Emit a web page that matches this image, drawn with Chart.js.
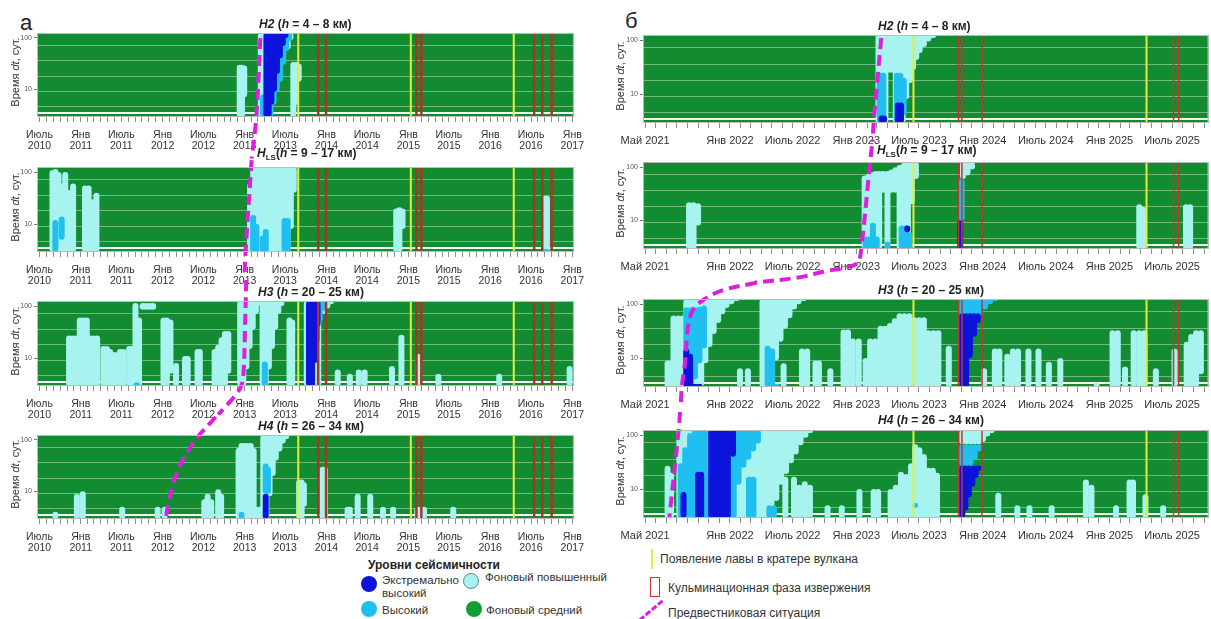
<!DOCTYPE html>
<html lang="ru">
<head>
<meta charset="utf-8">
<title>Уровни сейсмичности</title>
<script src="https://cdn.jsdelivr.net/npm/chart.js@4.4.1/dist/chart.umd.min.js"></script>
<style>
  body { margin: 0; background: #fff; font-family: "Liberation Sans", Arial, sans-serif; color: #222; }
  #page { position: relative; width: 1211px; height: 619px; overflow: hidden; }
  .panel { position: absolute; }
  .ptitle { position: absolute; font-weight: bold; font-size: 12px; white-space: nowrap; z-index: 5; color: #222; }
  .ptitle sub { font-size: 8px; }
  .ytitle { position: absolute; font-size: 11px; white-space: nowrap; transform: translate(-50%, -50%) rotate(-90deg); color: #333; z-index: 5; }
  .letter { position: absolute; font-size: 22px; color: #222; }
  .lg { position: absolute; font-size: 12px; white-space: nowrap; color: #333; line-height: 13px; }
  .dot { position: absolute; width: 16px; height: 16px; border-radius: 50%; }
</style>
</head>
<body>
<div id="page">
  <div class="letter" style="left:20px;top:10px;">а</div>
  <div class="letter" style="left:625px;top:8px;">б</div>

  <div class="lg" style="left:368px;top:559px;font-weight:bold;color:#222;">Уровни сейсмичности</div>
  <div class="dot" style="left:361px;top:576px;background:#0c14dc;"></div>
  <div class="lg" style="left:382px;top:574px;font-size:11.5px;">Экстремально<br>высокий</div>
  <div class="dot" style="left:361px;top:601px;background:#1fbff0;"></div>
  <div class="lg" style="left:382px;top:604px;font-size:11.5px;">Высокий</div>
  <div class="dot" style="left:463px;top:573px;background:#a7f3ef;box-sizing:border-box;border:1px solid #6a8a8a;"></div>
  <div class="lg" style="left:485px;top:571px;font-size:11.5px;">Фоновый повышенный</div>
  <div class="dot" style="left:466px;top:601px;background:#12a033;"></div>
  <div class="lg" style="left:486px;top:604px;font-size:11.5px;">Фоновый средний</div>

  <div style="position:absolute;left:651px;top:549px;width:2px;height:20px;background:#e6ec3a;"></div>
  <div class="lg" style="left:660px;top:553px;">Появление лавы в кратере вулкана</div>
  <div style="position:absolute;left:650px;top:577px;width:8px;height:18px;border:1.5px solid #d8322a;"></div>
  <div class="lg" style="left:668px;top:582px;">Кульминационная фаза извержения</div>
  <div style="position:absolute;left:636px;top:609px;width:30px;height:0;border-top:3px dashed #dc1fdc;transform:rotate(-40deg);"></div>
  <div class="lg" style="left:668px;top:607px;">Предвестниковая ситуация</div>
</div>

<script>
// ---- axis settings ----
const DT_MIN = 2.9, DT_MAX = 125;
const DT_GRID = [3.5, 4.6, 9, 18, 36, 72];
const DT_LABELS = [10, 100];

const LEFT_RANGE = ['2010-06-20', '2017-01-08'];
const RIGHT_RANGE = ['2021-04-25', '2025-10-14'];

const LEFT_TICK_LABELS = [
  ['2010-07-01', 'Июль', '2010'], ['2011-01-01', 'Янв', '2011'], ['2011-07-01', 'Июль', '2011'],
  ['2012-01-01', 'Янв', '2012'], ['2012-07-01', 'Июль', '2012'], ['2013-01-01', 'Янв', '2013'],
  ['2013-07-01', 'Июль', '2013'], ['2014-01-01', 'Янв', '2014'], ['2014-07-01', 'Июль', '2014'],
  ['2015-01-01', 'Янв', '2015'], ['2015-07-01', 'Июль', '2015'], ['2016-01-01', 'Янв', '2016'],
  ['2016-07-01', 'Июль', '2016'], ['2017-01-01', 'Янв', '2017']
];
const RIGHT_TICK_LABELS = [
  ['2021-05-01', 'Май 2021'], ['2022-01-01', 'Янв 2022'], ['2022-07-01', 'Июль 2022'],
  ['2023-01-01', 'Янв 2023'], ['2023-07-01', 'Июль 2023'], ['2024-01-01', 'Янв 2024'],
  ['2024-07-01', 'Июль 2024'], ['2025-01-01', 'Янв 2025'], ['2025-07-01', 'Июль 2025']
];

// ---- events ----
const LEFT_LAVA = ['2013-08-28', '2015-01-12', '2016-04-15'];
const LEFT_CULM = ['2013-11-25', '2013-12-30', '2015-02-06', '2015-02-28', '2016-07-15', '2016-08-20', '2016-10-01'];
const RIGHT_LAVA = ['2023-06-15', '2025-04-18'];
const RIGHT_CULM = ['2023-12-30'];
const RIGHT_CULM_RECTS = [['2023-10-23', '2023-11-02'], ['2025-07-05', '2025-07-20']];

// ---- columns: [date, dt from, dt to] ----
const L1_cyan = [
  ['2012-12-10', 2.9, 30], ['2012-12-20', 2.9, 30], ['2012-12-30', 7, 29],
  ['2013-03-14', 2.9, 125], ['2013-03-24', 2.9, 125], ['2013-04-03', 2.9, 125],
  ['2013-07-12', 60, 125], ['2013-07-24', 90, 125],
  ['2013-08-06', 2.9, 34], ['2013-08-18', 5, 34], ['2013-08-30', 14, 32]
];
const L1_lblue = [
  ['2013-03-24', 2.9, 8], ['2013-04-12', 2.9, 125], ['2013-04-26', 2.9, 125], ['2013-05-10', 5, 125],
  ['2013-05-24', 9, 125], ['2013-06-08', 14, 125], ['2013-06-22', 30, 125], ['2013-07-05', 55, 125], ['2013-07-18', 85, 125]
];
const L1_dblue = [
  ['2013-04-08', 2.9, 125], ['2013-04-18', 2.9, 125], ['2013-04-30', 5, 125], ['2013-05-12', 9, 125],
  ['2013-05-25', 20, 125], ['2013-06-07', 40, 125], ['2013-06-20', 70, 125], ['2013-07-02', 100, 125]
];
const L1_mag = [['2013-03-12', 100], ['2013-02-22', 2.9], ['2013-02-01', 0.45]];

const L2_cyan = [
  ['2010-08-28', 2.9, 110], ['2010-09-10', 2.9, 115], ['2010-09-24', 2.9, 100], ['2010-10-08', 2.9, 60],
  ['2010-10-24', 2.9, 100], ['2010-11-10', 2.9, 45], ['2010-11-28', 2.9, 60], ['2011-01-20', 2.9, 55],
  ['2011-02-05', 2.9, 55], ['2011-02-22', 2.9, 30], ['2011-03-12', 2.9, 40],
  ['2013-01-25', 2.9, 60], ['2013-02-08', 2.9, 125], ['2013-02-22', 2.9, 125], ['2013-03-08', 2.9, 125],
  ['2013-03-22', 2.9, 125], ['2013-04-05', 2.9, 125], ['2013-04-19', 2.9, 125], ['2013-05-03', 2.9, 125],
  ['2013-05-17', 2.9, 125], ['2013-05-31', 2.9, 125], ['2013-06-14', 2.9, 125], ['2013-06-28', 2.9, 125],
  ['2013-07-12', 2.9, 125], ['2013-07-26', 8, 125], ['2013-08-08', 40, 125],
  ['2014-11-08', 2.9, 20], ['2014-11-22', 2.9, 21], ['2014-12-06', 8, 20],
  ['2016-08-28', 2.9, 35], ['2016-09-10', 2.9, 35]
];
const L2_lblue = [
  ['2010-09-10', 2.9, 12], ['2010-10-08', 5, 14], ['2013-02-08', 2.9, 15], ['2013-02-22', 2.9, 10],
  ['2013-03-22', 2.9, 6], ['2013-04-05', 2.9, 8], ['2013-06-28', 2.9, 13], ['2013-07-12', 2.9, 13], ['2016-09-05', 2.9, 3.3]
];
const L2_dblue = [];
const L2_mag = [['2013-02-01', 170], ['2013-01-05', 2.9], ['2013-01-01', 1.2]];

const L3_cyan = [
  ['2010-11-10', 2.9, 27], ['2010-11-25', 2.9, 27], ['2010-12-10', 2.9, 27],
  ['2010-12-28', 2.9, 60], ['2011-01-12', 2.9, 60], ['2011-01-28', 2.9, 60],
  ['2011-02-12', 2.9, 27], ['2011-02-28', 2.9, 27], ['2011-03-15', 2.9, 27],
  ['2011-04-12', 2.9, 17], ['2011-04-28', 2.9, 17], ['2011-05-12', 2.9, 15],
  ['2011-06-02', 2.9, 13], ['2011-06-25', 2.9, 15], ['2011-07-10', 2.9, 15],
  ['2011-08-05', 2.9, 17], ['2011-08-18', 2.9, 17],
  ['2011-09-02', 2.9, 115], ['2011-09-18', 2.9, 60], ['2011-10-04', 85, 115], ['2011-10-20', 85, 115],
  ['2011-11-05', 85, 115], ['2011-11-20', 85, 115],
  ['2012-01-05', 2.9, 60], ['2012-01-20', 2.9, 60], ['2012-02-05', 5, 55], ['2012-03-01', 2.9, 8],
  ['2012-04-10', 2.9, 11], ['2012-04-22', 2.9, 11], ['2012-06-05', 2.9, 15], ['2012-06-15', 2.9, 15],
  ['2012-08-20', 2.9, 15], ['2012-09-05', 2.9, 18], ['2012-09-20', 2.9, 25], ['2012-10-05', 2.9, 33], ['2012-10-20', 5, 33],
  ['2012-12-12', 2.9, 125], ['2012-12-26', 2.9, 125], ['2013-01-09', 6, 125], ['2013-01-23', 15, 125],
  ['2013-02-06', 35, 125], ['2013-02-20', 70, 125], ['2013-03-06', 100, 125],
  ['2013-03-22', 2.9, 125], ['2013-04-05', 2.9, 125], ['2013-04-19', 6, 125], ['2013-05-03', 15, 125],
  ['2013-05-17', 35, 125], ['2013-05-31', 70, 125], ['2013-06-14', 100, 125],
  ['2013-07-20', 2.9, 60], ['2013-08-01', 2.9, 55],
  ['2013-10-05', 2.9, 125], ['2013-11-25', 2.9, 125], ['2013-12-20', 70, 125], ['2014-01-05', 90, 125], ['2014-01-20', 110, 125],
  ['2014-02-20', 2.9, 6], ['2014-04-15', 2.9, 5], ['2014-05-25', 2.9, 6], ['2014-06-20', 2.9, 6],
  ['2014-10-20', 2.9, 7], ['2014-12-01', 2.9, 28], ['2015-02-15', 2.9, 12], ['2015-05-15', 2.9, 5],
  ['2016-02-10', 2.9, 5], ['2016-12-20', 2.9, 7]
];
const L3_lblue = [['2011-09-08', 2.9, 3.4], ['2013-04-01', 2.9, 8.6], ['2013-11-20', 20, 125], ['2013-12-02', 50, 125], ['2013-12-15', 80, 125]];
const L3_dblue = [['2013-10-15', 2.9, 125], ['2013-10-28', 2.9, 125], ['2013-11-10', 8, 125], ['2013-11-22', 40, 125]];
const L3_mag = [['2013-01-08', 316], ['2013-01-02', 30], ['2012-12-28', 6], ['2012-12-18', 3], ['2012-11-20', 1.9], ['2012-09-05', 0.82]];

const L4_cyan = [
  ['2010-09-10', 2.9, 4], ['2010-12-15', 2.9, 9], ['2011-01-10', 2.9, 10], ['2011-07-05', 2.9, 5],
  ['2011-12-10', 2.9, 5], ['2012-01-10', 2.9, 5],
  ['2012-07-05', 2.9, 7], ['2012-07-20', 2.9, 9], ['2012-08-05', 2.9, 7], ['2012-09-05', 2.9, 11], ['2012-09-18', 2.9, 9],
  ['2012-12-05', 2.9, 70], ['2012-12-18', 2.9, 87], ['2013-01-01', 2.9, 87], ['2013-01-14', 2.9, 87],
  ['2013-01-28', 2.9, 87], ['2013-02-10', 2.9, 70], ['2013-02-25', 2.9, 5], ['2013-03-08', 2.9, 5],
  ['2013-03-25', 2.9, 125], ['2013-04-08', 2.9, 125], ['2013-04-22', 8, 125], ['2013-05-06', 20, 125],
  ['2013-05-20', 40, 125], ['2013-06-05', 60, 125], ['2013-06-20', 85, 125], ['2013-07-05', 105, 125],
  ['2013-09-01', 2.9, 17], ['2013-09-12', 2.9, 17], ['2013-09-22', 5, 15],
  ['2013-12-15', 2.9, 30], ['2013-12-25', 2.9, 30],
  ['2014-04-05', 2.9, 5], ['2014-04-15', 2.9, 5], ['2014-05-20', 2.9, 9], ['2014-07-15', 2.9, 9],
  ['2014-09-10', 2.9, 5], ['2014-10-25', 2.9, 5], ['2015-02-10', 2.9, 5], ['2015-02-25', 2.9, 5],
  ['2015-03-12', 2.9, 5], ['2015-07-20', 2.9, 5]
];
const L4_lblue = [['2012-12-18', 2.9, 4], ['2013-04-05', 9, 35], ['2013-04-15', 9, 30]];
const L4_dblue = [['2013-04-05', 2.9, 9]];
const L4_mag = [['2012-08-25', 280], ['2012-06-05', 114], ['2012-05-05', 73], ['2012-03-20', 33], ['2012-02-15', 13], ['2012-01-25', 5.3], ['2012-01-15', 2.9]];

const R1_cyan = [
  ['2023-03-06', 2.9, 125], ['2023-03-16', 2.9, 125], ['2023-03-26', 2.9, 125], ['2023-04-05', 25, 125],
  ['2023-04-15', 25, 125], ['2023-04-25', 2.9, 125], ['2023-05-05', 2.9, 125], ['2023-05-15', 2.9, 125],
  ['2023-05-25', 8, 125], ['2023-06-05', 16, 125], ['2023-06-14', 28, 125], ['2023-06-23', 43, 125],
  ['2023-07-03', 58, 125], ['2023-07-15', 75, 125], ['2023-07-28', 95, 125], ['2023-08-10', 110, 125]
];
const R1_lblue = [['2023-03-10', 2.9, 25], ['2023-03-20', 2.9, 25], ['2023-04-28', 2.9, 25], ['2023-05-08', 2.9, 25], ['2023-05-18', 4, 20]];
const R1_dblue = [['2023-03-15', 2.9, 4], ['2023-03-22', 2.9, 4], ['2023-05-01', 2.9, 7], ['2023-05-10', 2.9, 7]];
const R1_mag = [['2023-03-14', 110], ['2023-02-20', 2.9], ['2023-02-17', 1.3]];

const R2_cyan = [
  ['2021-09-05', 2.9, 22], ['2021-09-18', 2.9, 22], ['2021-10-01', 8, 21],
  ['2023-01-25', 2.9, 70], ['2023-02-05', 2.9, 75], ['2023-02-15', 2.9, 80], ['2023-02-25', 2.9, 85],
  ['2023-03-08', 2.9, 85], ['2023-03-20', 33, 85], ['2023-04-01', 2.9, 85], ['2023-04-12', 33, 90],
  ['2023-04-24', 33, 100], ['2023-05-06', 2.9, 110], ['2023-05-18', 2.9, 120], ['2023-05-30', 2.9, 125],
  ['2023-06-10', 20, 125], ['2023-06-22', 60, 125],
  ['2023-11-05', 60, 125], ['2023-11-18', 70, 125], ['2023-12-01', 90, 125],
  ['2025-03-28', 2.9, 20], ['2025-04-08', 2.9, 18], ['2025-08-10', 2.9, 20], ['2025-08-22', 2.9, 20]
];
const R2_lblue = [
  ['2023-01-28', 2.9, 5], ['2023-02-08', 2.9, 5], ['2023-02-18', 2.9, 9], ['2023-03-01', 2.9, 5],
  ['2023-04-01', 2.9, 4], ['2023-05-12', 2.9, 8], ['2023-05-24', 2.9, 8], ['2023-06-03', 2.9, 6], ['2023-11-01', 10, 60]
];
const R2_dblue = [['2023-05-28', 6, 8], ['2023-10-28', 2.9, 10]];
const R2_mag = [['2023-02-15', 248], ['2023-02-10', 125], ['2023-01-15', 2.9], ['2023-01-05', 1.6], ['2022-12-01', 1.3], ['2022-10-01', 1.1], ['2022-07-20', 0.85], ['2022-03-15', 0.68]];

const R3_cyan = [
  ['2021-07-05', 2.9, 9], ['2021-07-15', 2.9, 9], ['2021-07-22', 2.9, 62], ['2021-08-05', 2.9, 62], ['2021-08-18', 2.9, 62],
  ['2021-08-28', 2.9, 125], ['2021-09-10', 2.9, 125], ['2021-09-25', 2.9, 125], ['2021-10-10', 3, 125],
  ['2021-10-22', 8, 125], ['2021-11-03', 16, 125], ['2021-11-15', 28, 125], ['2021-11-28', 45, 125],
  ['2021-12-10', 65, 125], ['2021-12-22', 85, 125], ['2022-01-05', 100, 125], ['2022-01-18', 115, 125],
  ['2022-01-30', 2.9, 6.5], ['2022-02-22', 2.9, 6.5],
  ['2022-04-05', 2.9, 125], ['2022-04-18', 2.9, 125], ['2022-05-01', 2.9, 125], ['2022-05-14', 9, 125],
  ['2022-05-27', 20, 125], ['2022-06-09', 35, 125], ['2022-06-22', 55, 125], ['2022-07-05', 80, 125],
  ['2022-07-18', 100, 125], ['2022-07-31', 115, 125],
  ['2022-06-05', 2.9, 8], ['2022-07-28', 2.9, 15], ['2022-08-12', 2.9, 15], ['2022-09-05', 2.9, 9],
  ['2022-09-15', 2.9, 9], ['2022-10-18', 2.9, 6.5],
  ['2022-11-25', 2.9, 34], ['2022-12-08', 2.9, 34], ['2022-12-22', 2.9, 23], ['2023-01-08', 2.9, 23],
  ['2023-01-28', 2.9, 10], ['2023-02-10', 2.9, 23], ['2023-02-25', 2.9, 23], ['2023-03-12', 2.9, 40],
  ['2023-03-25', 2.9, 40], ['2023-04-08', 2.9, 45], ['2023-04-22', 2.9, 55], ['2023-05-06', 2.9, 68],
  ['2023-05-20', 2.9, 68], ['2023-06-03', 2.9, 68], ['2023-06-17', 2.9, 57], ['2023-07-01', 2.9, 57],
  ['2023-07-15', 2.9, 57], ['2023-07-29', 2.9, 33], ['2023-08-12', 2.9, 33], ['2023-08-26', 2.9, 33], ['2023-09-25', 2.9, 17],
  ['2024-01-05', 2.9, 6.5], ['2024-02-05', 2.9, 15], ['2024-02-18', 2.9, 15], ['2024-03-12', 2.9, 12],
  ['2024-03-28', 2.9, 15], ['2024-04-12', 2.9, 15], ['2024-05-12', 2.9, 15], ['2024-06-10', 2.9, 15],
  ['2024-07-10', 2.9, 8.5], ['2024-08-12', 2.9, 10], ['2024-11-25', 2.9, 3.5],
  ['2025-01-10', 2.9, 33], ['2025-01-25', 2.9, 33], ['2025-02-15', 2.9, 7], ['2025-03-12', 2.9, 33],
  ['2025-03-28', 2.9, 33], ['2025-04-12', 2.9, 33], ['2025-05-15', 2.9, 6.5], ['2025-07-08', 2.9, 15],
  ['2025-08-12', 2.9, 20], ['2025-08-25', 2.9, 28], ['2025-09-08', 2.9, 33], ['2025-09-22', 5, 33]
];
const R3_lblue = [
  ['2021-08-28', 2.9, 88], ['2021-09-10', 2.9, 88], ['2021-09-22', 4, 88], ['2021-10-05', 8, 90], ['2021-10-18', 15, 95],
  ['2022-04-20', 2.9, 17], ['2022-05-03', 2.9, 15], ['2022-05-16', 2.9, 3.3],
  ['2023-11-03', 60, 125], ['2023-11-15', 60, 125], ['2023-11-27', 60, 125], ['2023-12-09', 60, 125],
  ['2023-12-21', 60, 125], ['2024-01-08', 80, 125], ['2024-01-22', 100, 125], ['2024-02-05', 115, 125]
];
const R3_dblue = [
  ['2021-08-28', 2.9, 15], ['2021-09-08', 2.9, 12], ['2021-09-22', 2.9, 3.3], ['2021-10-05', 2.9, 3.3],
  ['2023-11-03', 2.9, 68], ['2023-11-14', 2.9, 68], ['2023-11-25', 10, 68], ['2023-12-07', 25, 68], ['2023-12-18', 45, 68]
];
const R3_mag = [['2022-03-18', 250], ['2021-12-12', 183], ['2021-10-20', 125], ['2021-09-16', 78], ['2021-09-01', 34], ['2021-08-25', 9], ['2021-08-15', 2.9], ['2021-08-12', 1.3]];

const R4_cyan = [
  ['2021-07-05', 2.9, 27], ['2021-07-15', 2.9, 20],
  ['2021-08-08', 2.9, 125], ['2021-08-22', 2.9, 125], ['2021-09-05', 2.9, 125], ['2021-09-19', 2.9, 125],
  ['2021-10-03', 2.9, 125], ['2021-10-17', 2.9, 125], ['2021-10-31', 2.9, 125], ['2021-11-14', 2.9, 125],
  ['2021-11-28', 2.9, 125], ['2021-12-12', 2.9, 125], ['2021-12-26', 2.9, 125], ['2022-01-09', 2.9, 125],
  ['2022-01-23', 2.9, 125], ['2022-02-06', 2.9, 125], ['2022-02-20', 2.9, 125], ['2022-03-06', 2.9, 125],
  ['2022-03-20', 2.9, 125], ['2022-04-03', 2.9, 125], ['2022-04-17', 2.9, 125], ['2022-05-01', 2.9, 125],
  ['2022-05-15', 6, 125], ['2022-05-29', 12, 125], ['2022-06-12', 19, 125], ['2022-06-26', 30, 125],
  ['2022-07-10', 44, 125], ['2022-07-24', 65, 125], ['2022-08-07', 90, 125], ['2022-08-20', 110, 125],
  ['2022-06-10', 2.9, 17], ['2022-07-05', 2.9, 17], ['2022-07-20', 2.9, 12], ['2022-08-05', 2.9, 14], ['2022-08-20', 2.9, 12],
  ['2022-10-10', 2.9, 5], ['2022-11-20', 2.9, 5], ['2023-01-10', 2.9, 10], ['2023-02-20', 2.9, 10],
  ['2023-03-05', 2.9, 10], ['2023-04-10', 2.9, 10], ['2023-04-25', 2.9, 12], ['2023-05-10', 2.9, 21],
  ['2023-05-25', 2.9, 19], ['2023-06-08', 2.9, 30], ['2023-06-20', 2.9, 68], ['2023-07-02', 2.9, 60],
  ['2023-07-15', 2.9, 45], ['2023-07-28', 2.9, 25], ['2023-08-10', 2.9, 25], ['2023-08-22', 2.9, 20],
  ['2023-11-03', 68, 125], ['2023-11-15', 68, 125], ['2023-11-27', 68, 125], ['2023-12-09', 68, 125],
  ['2023-12-21', 68, 125], ['2024-01-02', 75, 125], ['2024-01-14', 95, 125], ['2024-01-26', 110, 125],
  ['2024-02-15', 2.9, 8.5], ['2024-04-10', 2.9, 5], ['2024-05-15', 2.9, 5], ['2024-07-18', 2.9, 5],
  ['2024-10-25', 2.9, 15], ['2024-11-10', 2.9, 12], ['2025-01-20', 2.9, 5], ['2025-02-28', 2.9, 15],
  ['2025-03-10', 2.9, 15], ['2025-04-15', 2.9, 8], ['2025-06-05', 2.9, 5]
];
const R4_lblue = [
  ['2021-08-12', 2.9, 30], ['2021-08-25', 2.9, 60], ['2021-09-08', 2.9, 110], ['2021-09-22', 2.9, 125],
  ['2021-10-06', 2.9, 125], ['2021-10-20', 2.9, 125], ['2021-11-03', 2.9, 125], ['2021-11-17', 2.9, 125],
  ['2021-12-01', 2.9, 125], ['2021-12-15', 2.9, 125], ['2021-12-29', 2.9, 125], ['2022-01-12', 2.9, 125],
  ['2022-01-26', 12, 125], ['2022-02-09', 25, 125], ['2022-02-23', 35, 125], ['2022-03-09', 50, 125], ['2022-03-23', 70, 125],
  ['2022-02-25', 2.9, 17], ['2022-03-10', 2.9, 17], ['2022-04-25', 2.9, 5], ['2022-05-08', 2.9, 5],
  ['2023-06-20', 4.5, 5.5],
  ['2023-11-03', 27, 68], ['2023-11-15', 27, 68], ['2023-11-27', 27, 68], ['2023-12-09', 35, 68], ['2023-12-21', 50, 68]
];
const R4_dblue = [
  ['2021-08-20', 2.9, 8.8], ['2021-10-01', 2.9, 21], ['2021-10-10', 2.9, 21],
  ['2021-11-08', 2.9, 125], ['2021-11-20', 2.9, 125], ['2021-12-02', 2.9, 125], ['2021-12-14', 2.9, 125],
  ['2021-12-26', 2.9, 125], ['2022-01-10', 40, 125],
  ['2023-11-03', 2.9, 27], ['2023-11-12', 4, 27], ['2023-11-22', 7, 27], ['2023-12-02', 11, 27], ['2023-12-12', 16, 27], ['2023-12-22', 22, 27]
];
const R4_mag = [['2021-08-10', 270], ['2021-08-06', 125], ['2021-07-10', 2.9]];

// ---- styles ----
const FONT = '"Liberation Sans", Arial, sans-serif';
const GREEN = '#138b30';
const CYAN = '#a7f3ef', LBLUE = '#1fbff0', DBLUE = '#0c14dc';
const YELLOW = '#e2ee3c', RED = '#b3321f', RECT_RED = '#c8352a', MAGENTA = '#dc1fdc';

const t = s => Date.parse(s + 'T00:00:00Z');

function monthTicks(range) {
  const out = [];
  const a = new Date(t(range[0])), b = t(range[1]);
  let y = a.getUTCFullYear(), m = a.getUTCMonth() + 1;
  while (true) {
    const v = Date.UTC(y, m, 1);
    if (v > b) break;
    out.push(v);
    m++;
    if (m > 11) { m = 0; y++; }
  }
  return out;
}

const leftCol = {
  left: 0, width: 592, axisW: 37, padRight: 12, xH: 40, labelFont: 10.5, labelPad: 8, yTitleX: 15,
  range: LEFT_RANGE, ticks: monthTicks(LEFT_RANGE),
  labels: new Map(LEFT_TICK_LABELS.map(r => [t(r[0]), [r[1], r[2]]])),
  lava: LEFT_LAVA, culm: LEFT_CULM, rects: []
};
const rightCol = {
  left: 605, width: 606, axisW: 38, padRight: 0, xH: 30, labelFont: 11, labelPad: 7, yTitleX: 620,
  range: RIGHT_RANGE, ticks: monthTicks(RIGHT_RANGE),
  labels: new Map(RIGHT_TICK_LABELS.map(r => [t(r[0]), r[1]])),
  lava: RIGHT_LAVA, culm: RIGHT_CULM, rects: RIGHT_CULM_RECTS
};

const panels = [
  { col: leftCol, top: 33, bottom: 117, tx: 259, ty: 17, title: '<i>H2</i> (<i>h</i> = 4 – 8 км)', cyan: L1_cyan, lblue: L1_lblue, dblue: L1_dblue, mag: L1_mag },
  { col: leftCol, top: 167, bottom: 252, tx: 257, ty: 146, title: '<i>H</i><sub>LS</sub>(<i>h</i> = 9 – 17 км)', cyan: L2_cyan, lblue: L2_lblue, dblue: L2_dblue, mag: L2_mag },
  { col: leftCol, top: 301, bottom: 386, tx: 258, ty: 285, title: '<i>H3</i> (<i>h</i> = 20 – 25 км)', cyan: L3_cyan, lblue: L3_lblue, dblue: L3_dblue, mag: L3_mag },
  { col: leftCol, top: 435, bottom: 519, tx: 258, ty: 419, title: '<i>H4</i> (<i>h</i> = 26 – 34 км)', cyan: L4_cyan, lblue: L4_lblue, dblue: L4_dblue, mag: L4_mag },
  { col: rightCol, top: 35, bottom: 123, tx: 878, ty: 19, title: '<i>H2</i> (<i>h</i> = 4 – 8 км)', cyan: R1_cyan, lblue: R1_lblue, dblue: R1_dblue, mag: R1_mag },
  { col: rightCol, top: 162, bottom: 249, tx: 877, ty: 143, title: '<i>H</i><sub>LS</sub>(<i>h</i> = 9 – 17 км)', cyan: R2_cyan, lblue: R2_lblue, dblue: R2_dblue, mag: R2_mag },
  { col: rightCol, top: 299, bottom: 387, tx: 878, ty: 283, title: '<i>H3</i> (<i>h</i> = 20 – 25 км)', cyan: R3_cyan, lblue: R3_lblue, dblue: R3_dblue, mag: R3_mag },
  { col: rightCol, top: 430, bottom: 518, tx: 878, ty: 413, title: '<i>H4</i> (<i>h</i> = 26 – 34 км)', cyan: R4_cyan, lblue: R4_lblue, dblue: R4_dblue, mag: R4_mag }
];

const plotBg = {
  id: 'plotBg',
  beforeDraw(chart) {
    const { ctx, chartArea: a } = chart;
    ctx.save();
    ctx.fillStyle = GREEN;
    ctx.fillRect(a.left, a.top, a.right - a.left, a.bottom - a.top);
    ctx.restore();
  },
  afterDraw(chart) {
    const { ctx, chartArea: a } = chart;
    ctx.save();
    ctx.strokeStyle = '#b9bdb9';
    ctx.lineWidth = 1;
    ctx.strokeRect(a.left + 0.5, a.top + 0.5, a.right - a.left - 1, a.bottom - a.top - 1);
    ctx.restore();
  }
};

function barSet(cols, color, order) {
  return {
    type: 'bar',
    data: cols.map(c => ({ x: t(c[0]), y: [c[1], c[2]] })),
    backgroundColor: color,
    borderWidth: 0,
    borderRadius: 3,
    borderSkipped: false,
    grouped: false,
    categoryPercentage: 1,
    barPercentage: 100,
    maxBarThickness: 6,
    order
  };
}

function vlineSet(dates, color, width, order) {
  const pts = [];
  dates.forEach(d => { pts.push({ x: t(d), y: DT_MIN }, { x: t(d), y: DT_MAX }, { x: t(d), y: null }); });
  return { type: 'line', data: pts, borderColor: color, borderWidth: width, pointRadius: 0, spanGaps: false, order };
}

function rectSet(rects, color, order) {
  const pts = [];
  rects.forEach(([a, b]) => {
    pts.push({ x: t(a), y: DT_MIN }, { x: t(a), y: DT_MAX }, { x: t(b), y: DT_MAX }, { x: t(b), y: DT_MIN }, { x: t(a), y: DT_MIN }, { x: t(a), y: null });
  });
  return { type: 'line', data: pts, borderColor: color, borderWidth: 1.5, pointRadius: 0, spanGaps: false, order };
}

const page = document.getElementById('page');
const PAD_TOP = 30, PAD_BOTTOM = 48;

panels.forEach(p => {
  const c = p.col;
  const box = document.createElement('div');
  box.className = 'panel';
  const h = p.bottom - p.top + PAD_TOP + PAD_BOTTOM;
  box.style.left = c.left + 'px';
  box.style.top = (p.top - PAD_TOP) + 'px';
  const cv = document.createElement('canvas');
  cv.width = c.width;
  cv.height = h;
  box.appendChild(cv);
  page.appendChild(box);

  const title = document.createElement('div');
  title.className = 'ptitle';
  title.style.left = p.tx + 'px';
  title.style.top = p.ty + 'px';
  title.innerHTML = p.title;
  page.appendChild(title);

  const yt = document.createElement('div');
  yt.className = 'ytitle';
  yt.style.left = c.yTitleX + 'px';
  yt.style.top = ((p.top + p.bottom) / 2 - 3) + 'px';
  yt.innerHTML = 'Время <i>dt</i>, сут.';
  page.appendChild(yt);

  const datasets = [
    barSet(p.cyan, CYAN, 10),
    barSet(p.lblue, LBLUE, 9),
    barSet(p.dblue, DBLUE, 8),
    vlineSet(c.lava, YELLOW, 2, 4),
    vlineSet(c.culm, c === leftCol ? RED : RECT_RED, c === leftCol ? 2.5 : 1.5, 3),
    {
      type: 'line',
      data: p.mag.map(m => ({ x: t(m[0]), y: m[1] })),
      borderColor: MAGENTA, borderWidth: 4, borderDash: [11, 6],
      pointRadius: 0, tension: 0.35, clip: false, order: 1
    }
  ];
  if (c.rects.length) datasets.push(rectSet(c.rects, RECT_RED, 2));

  new Chart(cv, {
    type: 'bar',
    data: { datasets },
    plugins: [plotBg],
    options: {
      responsive: false,
      animation: false,
      events: [],
      layout: { padding: { top: PAD_TOP, bottom: PAD_BOTTOM - c.xH, left: 0, right: c.padRight } },
      plugins: { legend: { display: false }, tooltip: { enabled: false } },
      scales: {
        x: {
          type: 'linear',
          min: t(c.range[0]), max: t(c.range[1]),
          offset: false,
          afterBuildTicks: s => { s.ticks = c.ticks.map(v => ({ value: v })); },
          afterFit: s => { s.height = c.xH; },
          grid: { offset: false, drawOnChartArea: false, drawTicks: true, tickLength: 5, tickColor: '#8d8d8d' },
          border: { display: false },
          ticks: {
            autoSkip: false, maxRotation: 0, minRotation: 0, padding: c.labelPad,
            color: '#333', font: { family: FONT, size: c.labelFont, lineHeight: 1.05 },
            callback: v => c.labels.get(v) ?? ''
          }
        },
        y: {
          type: 'logarithmic',
          min: DT_MIN, max: DT_MAX,
          afterBuildTicks: s => { s.ticks = [...DT_GRID, ...DT_LABELS].sort((a, b) => a - b).map(v => ({ value: v })); },
          afterFit: s => { s.width = c.axisW; },
          grid: {
            drawTicks: true, tickLength: 3,
            color: ctx => DT_LABELS.includes(ctx.tick.value) ? 'rgba(0,0,0,0)' : (ctx.tick.value === DT_GRID[0] ? 'rgba(255,255,255,0.95)' : 'rgba(255,255,255,0.4)'),
            lineWidth: ctx => ctx.tick.value === DT_GRID[0] ? 2 : 1,
            tickColor: ctx => DT_LABELS.includes(ctx.tick.value) ? '#777' : 'rgba(0,0,0,0)'
          },
          border: { display: false },
          ticks: {
            autoSkip: false, padding: 2, color: '#555', font: { family: FONT, size: 7 },
            callback: v => DT_LABELS.includes(v) ? String(v) : ''
          }
        }
      }
    }
  });
});
</script>
</body>
</html>
